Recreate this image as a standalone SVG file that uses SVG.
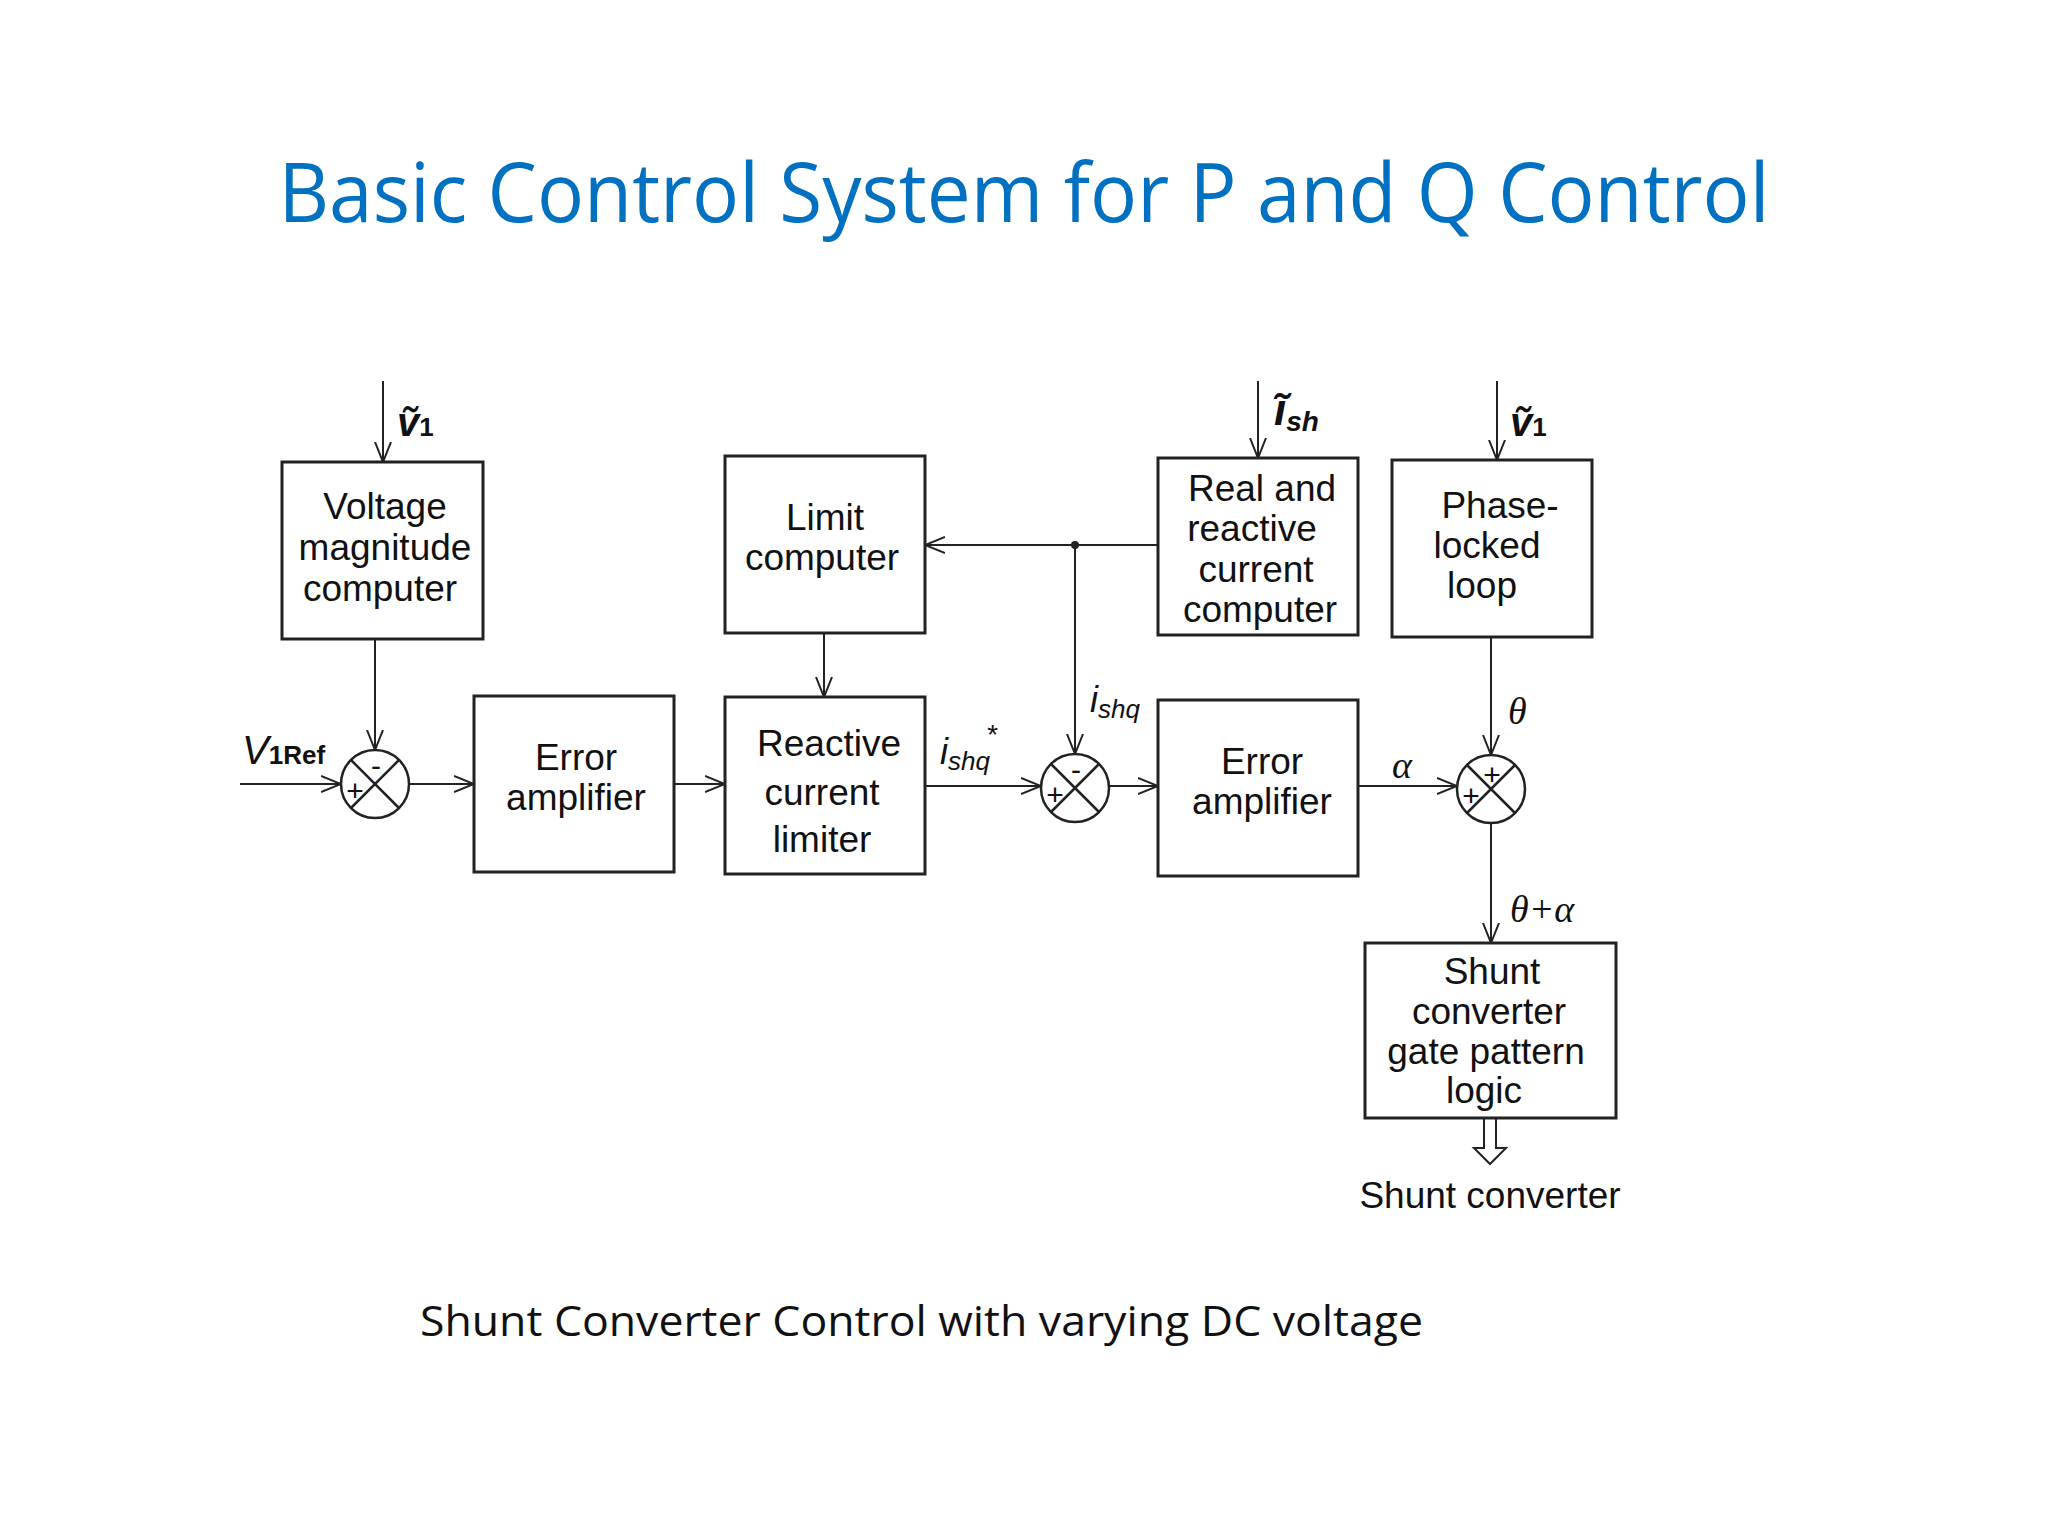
<svg xmlns="http://www.w3.org/2000/svg" width="2048" height="1536" viewBox="0 0 2048 1536">
<defs>
<marker id="a" viewBox="0 0 20 20" refX="20" refY="10" markerWidth="20" markerHeight="20" markerUnits="userSpaceOnUse" orient="auto"><path d="M0,2 L20,10 L0,18" fill="none" stroke="#222" stroke-width="2"/></marker>
</defs>
<style>
.b{fill:#fff;stroke:#222;stroke-width:3}
.t{font-family:"Liberation Sans",Arial,sans-serif;font-size:37px;fill:#111;text-anchor:middle}
.l{fill:none;stroke:#222;stroke-width:2;marker-end:url(#a)}
.m{font-family:"Liberation Serif","Times New Roman",serif;font-style:italic;font-size:38px;fill:#111}
.s{font-family:"Liberation Sans",Arial,sans-serif;font-size:30px;fill:#111;text-anchor:middle}
.x{stroke:#222;stroke-width:2.5;fill:#fff}
</style>
<rect width="2048" height="1536" fill="#fff"/>
<text x="1024" y="222" font-family="'Open Sans','Liberation Sans',sans-serif" font-size="82" fill="#0070C0" text-anchor="middle" textLength="1491" lengthAdjust="spacingAndGlyphs">Basic Control System for P and Q Control</text>

<g id="connectors">
<line class="l" x1="383" y1="381" x2="383" y2="462"/>
<line class="l" x1="375" y1="639" x2="375" y2="750"/>
<line class="l" x1="240" y1="784" x2="341" y2="784"/>
<line class="l" x1="409" y1="784" x2="474" y2="784"/>
<line class="l" x1="674" y1="784" x2="725" y2="784"/>
<line class="l" x1="824" y1="633" x2="824" y2="697"/>
<line class="l" x1="925" y1="786" x2="1041" y2="786"/>
<line class="l" x1="1109" y1="786" x2="1158" y2="786"/>
<line class="l" x1="1158" y1="545" x2="925" y2="545"/>
<circle cx="1075" cy="545" r="4" fill="#222"/>
<line class="l" x1="1075" y1="545" x2="1075" y2="754"/>
<line class="l" x1="1258" y1="381" x2="1258" y2="458"/>
<line class="l" x1="1497" y1="381" x2="1497" y2="460"/>
<line class="l" x1="1491" y1="637" x2="1491" y2="755"/>
<line class="l" x1="1358" y1="786" x2="1457" y2="786"/>
<line class="l" x1="1491" y1="823" x2="1491" y2="943"/>
<path d="M1484,1118 V1148 H1474 L1490,1164 L1506,1148 H1496 V1118" fill="#fff" stroke="#222" stroke-width="2"/>
</g>

<g id="vmc"><rect class="b" x="282" y="462" width="201" height="177"/>
<text class="t" x="385" y="519">Voltage</text><text class="t" x="385" y="560">magnitude</text><text class="t" x="380" y="601">computer</text></g>
<g id="ea1"><rect class="b" x="474" y="696" width="200" height="176"/>
<text class="t" x="576" y="770">Error</text><text class="t" x="576" y="810">amplifier</text></g>
<g id="lc"><rect class="b" x="725" y="456" width="200" height="177"/>
<text class="t" x="825" y="530">Limit</text><text class="t" x="822" y="570">computer</text></g>
<g id="rcl"><rect class="b" x="725" y="697" width="200" height="177"/>
<text class="t" x="829" y="756">Reactive</text><text class="t" x="822" y="805">current</text><text class="t" x="822" y="852">limiter</text></g>
<g id="rrc"><rect class="b" x="1158" y="458" width="200" height="177"/>
<text class="t" x="1262" y="501">Real and</text><text class="t" x="1252" y="541">reactive</text><text class="t" x="1256" y="582">current</text><text class="t" x="1260" y="622">computer</text></g>
<g id="pll"><rect class="b" x="1392" y="460" width="200" height="177"/>
<text class="t" x="1500" y="518">Phase-</text><text class="t" x="1487" y="558">locked</text><text class="t" x="1482" y="598">loop</text></g>
<g id="ea2"><rect class="b" x="1158" y="700" width="200" height="176"/>
<text class="t" x="1262" y="774">Error</text><text class="t" x="1262" y="814">amplifier</text></g>
<g id="sgl"><rect class="b" x="1365" y="943" width="251" height="175"/>
<text class="t" x="1492" y="984">Shunt</text><text class="t" x="1489" y="1024">converter</text><text class="t" x="1486" y="1064">gate pattern</text><text class="t" x="1484" y="1103">logic</text></g>

<g id="s1"><circle class="x" cx="375" cy="784" r="34"/><path d="M351,760 L399,808 M399,760 L351,808" stroke="#222" stroke-width="2.5"/>
<text class="s" x="355" y="801">+</text><text class="s" x="376" y="776">-</text></g>
<g id="s2"><circle class="x" cx="1075" cy="788" r="34"/><path d="M1051,764 L1099,812 M1099,764 L1051,812" stroke="#222" stroke-width="2.5"/>
<text class="s" x="1055" y="805">+</text><text class="s" x="1076" y="780">-</text></g>
<g id="s3"><circle class="x" cx="1491" cy="789" r="34"/><path d="M1467,765 L1515,813 M1515,765 L1467,813" stroke="#222" stroke-width="2.5"/>
<text class="s" x="1471" y="806">+</text><text class="s" x="1492" y="785">+</text></g>

<text font-family="'Liberation Sans',Arial,sans-serif" font-weight="bold" font-style="italic" font-size="40" x="397" y="436" fill="#111">ṽ<tspan font-size="26" font-style="normal">1</tspan></text>
<text font-family="'Liberation Sans',Arial,sans-serif" font-style="italic" font-size="40" x="242" y="764" fill="#111">V<tspan font-size="26" font-weight="bold" font-style="normal">1Ref</tspan></text>
<text font-family="'Liberation Sans',Arial,sans-serif" font-style="italic" font-size="36" x="940" y="764" fill="#111">i<tspan font-size="26" dy="6">shq</tspan><tspan font-size="28" dy="-26" dx="-4">*</tspan></text>
<text font-family="'Liberation Sans',Arial,sans-serif" font-style="italic" font-size="36" x="1090" y="712" fill="#111">i<tspan font-size="26" dy="6">shq</tspan></text>
<text font-family="'Liberation Sans',Arial,sans-serif" font-weight="bold" font-style="italic" font-size="44" x="1274" y="425" fill="#111">ĩ<tspan font-size="28" dy="6">sh</tspan></text>
<text font-family="'Liberation Sans',Arial,sans-serif" font-weight="bold" font-style="italic" font-size="40" x="1510" y="436" fill="#111">ṽ<tspan font-size="26" font-style="normal">1</tspan></text>
<text class="m" x="1508" y="724">θ</text>
<text class="m" x="1392" y="778">α</text>
<text class="m" x="1510" y="922">θ+α</text>
<text class="t" x="1490" y="1208">Shunt converter</text>
<text x="420" y="1336" font-family="'Open Sans','Liberation Sans',sans-serif" font-size="42" fill="#111" textLength="1003" lengthAdjust="spacingAndGlyphs">Shunt Converter Control with varying DC voltage</text>
</svg>
